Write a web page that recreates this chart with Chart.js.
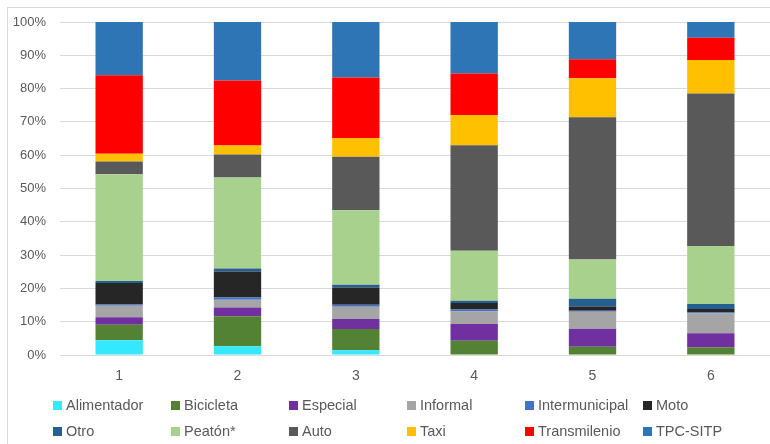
<!DOCTYPE html>
<html>
<head>
<meta charset="utf-8">
<script src="https://cdn.jsdelivr.net/npm/chart.js@4/dist/chart.umd.min.js"></script>
<style>
  body { margin: 0; background: #fff; }
  .wrap { position: relative; width: 770px; height: 444px; overflow: hidden; }
  .frame { position: absolute; left: 7px; top: 7px; width: 800px; height: 500px;
           border-left: 1px solid #d9d9d9; border-top: 1px solid #d9d9d9; }
  canvas { position: absolute; left: 0; top: 0; }
  .legend { position: absolute; left: 53px; top: 395px; display: grid;
            grid-template-columns: repeat(6, 118px); row-gap: 6px;
            font-family: "Liberation Sans", sans-serif; font-size: 14.5px; color: #595959; }
  .legend div { display: flex; align-items: center; height: 20px; white-space: nowrap; }
  .legend span { display: inline-block; width: 9px; height: 9px; margin-right: 4px; }
</style>
</head>
<body>
<div class="wrap">
  <div class="frame"></div>
  <canvas id="myChart" width="770" height="444"></canvas>
  <div class="legend" id="legend"></div>
</div>
<script>
const categories = ['1', '2', '3', '4', '5', '6'];

const alimentador    = [4.4, 2.6, 1.4, 0, 0, 0];
const bicicleta      = [4.7, 9.0, 6.4, 4.3, 2.5, 2.3];
const especial       = [2.2, 2.7, 3.0, 5.0, 5.4, 4.2];
const informal       = [3.5, 2.3, 3.7, 3.8, 5.1, 6.0];
const intermunicipal = [0.4, 0.7, 0.6, 0.6, 0.3, 0.3];
const moto           = [6.4, 7.8, 5.2, 1.9, 1.3, 1.0];
const otro           = [0.6, 0.9, 0.8, 0.7, 2.3, 1.5];
const peaton         = [32.1, 27.3, 22.4, 15.0, 11.8, 17.4];
const auto           = [3.8, 6.9, 16.0, 31.7, 42.7, 45.8];
const taxi           = [2.3, 2.7, 5.7, 9.1, 11.7, 10.1];
const transmilenio   = [23.6, 19.5, 18.1, 12.4, 5.7, 6.7];
const tpcSitp        = [16.0, 17.6, 16.7, 15.5, 11.2, 4.7];

const yTicks = [0, 10, 20, 30, 40, 50, 60, 70, 80, 90, 100];

const series = [
  ['Alimentador', alimentador, '#33e8ff'],
  ['Bicicleta', bicicleta, '#548235'],
  ['Especial', especial, '#7030a0'],
  ['Informal', informal, '#a5a5a5'],
  ['Intermunicipal', intermunicipal, '#4472c4'],
  ['Moto', moto, '#262626'],
  ['Otro', otro, '#255e91'],
  ['Peatón*', peaton, '#a9d18e'],
  ['Auto', auto, '#595959'],
  ['Taxi', taxi, '#ffc000'],
  ['Transmilenio', transmilenio, '#ff0000'],
  ['TPC-SITP', tpcSitp, '#2e75b6']
];

const ctx = document.getElementById('myChart').getContext('2d');

const data = {
  labels: categories,
  datasets: series.map(s => ({
    label: s[0],
    data: s[1],
    backgroundColor: s[2],
    borderWidth: 0,
    barPercentage: 0.4,
    categoryPercentage: 1
  }))
};

const config = {
  type: 'bar',
  data: data,
  options: {
    responsive: false,
    animation: false,
    layout: { padding: { top: 22, right: 0, bottom: 0, left: 0 } },
    plugins: { legend: { display: false }, tooltip: { enabled: false } },
    scales: {
      x: {
        stacked: true,
        grid: { display: false },
        border: { display: false },
        ticks: { color: '#595959', font: { family: 'Liberation Sans', size: 14 }, padding: 5 },
        afterFit: scale => { scale.height = 89; }
      },
      y: {
        stacked: true,
        min: 0,
        max: 100,
        afterBuildTicks: scale => { scale.ticks = yTicks.map(v => ({ value: v })); },
        grid: { color: '#d9d9d9', lineWidth: 1, drawTicks: false },
        border: { display: false },
        ticks: {
          color: '#595959',
          font: { family: 'Liberation Sans', size: 13 },
          padding: 14,
          callback: v => v + '%'
        },
        afterFit: scale => { scale.width = 60; }
      }
    }
  }
};

const myChart = new Chart(ctx, config);

const legend = document.getElementById('legend');
series.forEach(s => {
  const div = document.createElement('div');
  const box = document.createElement('span');
  box.style.background = s[2];
  div.appendChild(box);
  div.appendChild(document.createTextNode(s[0]));
  legend.appendChild(div);
});
</script>
</body>
</html>
